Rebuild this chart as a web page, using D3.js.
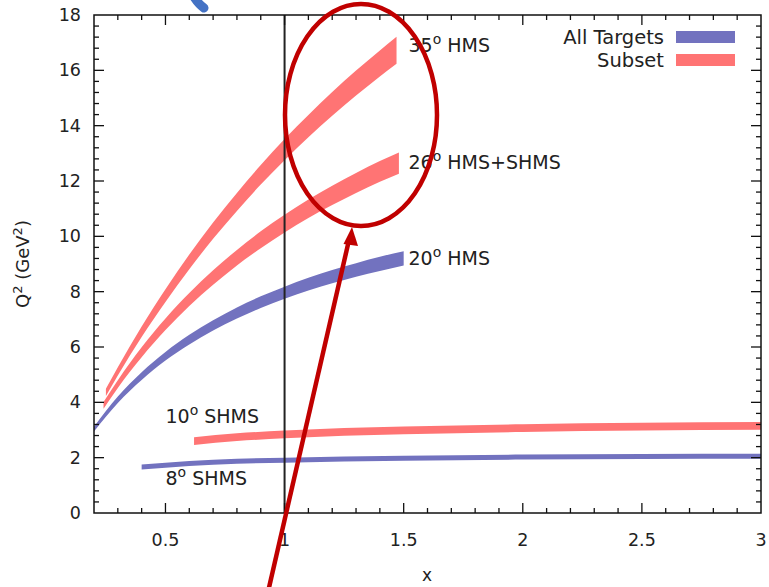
<!DOCTYPE html>
<html><head><meta charset="utf-8">
<script src="https://cdn.jsdelivr.net/npm/d3@7"></script>
<style>html,body{margin:0;padding:0;background:#fff;}svg{display:block;font-family:"DejaVu Sans",sans-serif;}</style>
</head><body>
<svg id="c" width="769" height="587"></svg>
<script>
// ---- data ----
const xTicks = [0.5, 1, 1.5, 2, 2.5, 3];
const xTickLabels = ["0.5", "1", "1.5", "2", "2.5", "3"];
const yTicks = [0, 2, 4, 6, 8, 10, 12, 14, 16, 18];
const yTickLabels = ["0", "2", "4", "6", "8", "10", "12", "14", "16", "18"];

const hms35X     = [0.25, 0.30, 0.40, 0.50, 0.60, 0.70, 0.80, 0.90, 1.00, 1.10, 1.20, 1.30, 1.40, 1.47];
const hms35Upper = [4.49, 5.27, 6.74, 8.09, 9.34, 10.50, 11.57, 12.58, 13.52, 14.39, 15.22, 15.99, 16.72, 17.21];
const hms35Lower = [4.23, 4.97, 6.36, 7.63, 8.81, 9.91, 10.92, 11.87, 12.75, 13.58, 14.36, 15.09, 15.78, 16.24];

const hms26X     = [0.24, 0.30, 0.40, 0.50, 0.60, 0.70, 0.80, 0.90, 1.00, 1.10, 1.20, 1.30, 1.40, 1.48];
const hms26Upper = [4.01, 4.80, 5.99, 7.03, 7.95, 8.77, 9.51, 10.18, 10.78, 11.33, 11.83, 12.29, 12.72, 13.03];
const hms26Lower = [3.77, 4.52, 5.63, 6.61, 7.48, 8.25, 8.95, 9.57, 10.14, 10.66, 11.13, 11.57, 11.97, 12.26];

const hms20X     = [0.20, 0.30, 0.40, 0.50, 0.60, 0.70, 0.80, 0.90, 1.00, 1.10, 1.20, 1.30, 1.40, 1.50];
const hms20Upper = [3.12, 4.21, 5.09, 5.82, 6.44, 6.97, 7.43, 7.83, 8.18, 8.50, 8.78, 9.03, 9.26, 9.46];
const hms20Lower = [2.95, 3.98, 4.81, 5.51, 6.09, 6.60, 7.03, 7.41, 7.74, 8.04, 8.30, 8.54, 8.75, 8.95];

const shms10X     = [0.62, 0.80, 1.00, 1.25, 1.50, 2.00, 2.50, 3.00];
const shms10Upper = [2.74, 2.88, 2.98, 3.07, 3.13, 3.21, 3.26, 3.29];
const shms10Lower = [2.46, 2.60, 2.70, 2.79, 2.85, 2.93, 2.98, 3.01];

const shms8X     = [0.40, 0.60, 0.80, 1.00, 1.50, 2.00, 2.50, 3.00];
const shms8Upper = [1.75, 1.88, 1.96, 2.00, 2.07, 2.11, 2.13, 2.14];
const shms8Lower = [1.57, 1.70, 1.78, 1.82, 1.89, 1.93, 1.95, 1.96];

const seriesNames = ["All Targets", "Subset"];
const bandLabels = [
  {num: "35", rest: " HMS", x: 1.52, y: 16.9},
  {num: "26", rest: " HMS+SHMS", x: 1.52, y: 12.7},
  {num: "20", rest: " HMS", x: 1.52, y: 9.2},
  {num: "10", rest: " SHMS", x: 0.50, y: 3.5},
  {num: "8",  rest: " SHMS", x: 0.50, y: 1.25}
];

// ---- layout ----
const L = 94, R = 761, T = 15, B = 513;
const RED = "#ff7474", BLUE = "#7272bf";

const svg = d3.select("#c");
const xs = d3.scaleLinear().domain([0.2, 3]).range([L, R]);
const ys = d3.scaleLinear().domain([0, 18]).range([B, T]);

// decorative slide residue at top
svg.append("path").attr("d", "M191,-8 Q197,3 204,8").attr("fill", "none")
  .attr("stroke", "#4472c4").attr("stroke-width", 9).attr("stroke-linecap", "round");

function band(xArr, up, lo, color) {
  const pts = xArr.map((x, i) => ({x, u: up[i], l: lo[i]}));
  const area = d3.area().x(d => xs(d.x)).y0(d => ys(d.l)).y1(d => ys(d.u)).curve(d3.curveMonotoneX);
  svg.append("path").datum(pts).attr("d", area).attr("fill", color);
}
band(hms20X, hms20Upper, hms20Lower, BLUE);
band(shms8X, shms8Upper, shms8Lower, BLUE);
band(hms35X, hms35Upper, hms35Lower, RED);
band(hms26X, hms26Upper, hms26Lower, RED);
band(shms10X, shms10Upper, shms10Lower, RED);

// vertical line at x=1
svg.append("line").attr("x1", xs(1)).attr("x2", xs(1)).attr("y1", ys(18)).attr("y2", ys(0))
  .attr("stroke", "#222").attr("stroke-width", 2);

// frame
svg.append("rect").attr("x", L).attr("y", T).attr("width", R - L).attr("height", B - T)
  .attr("fill", "none").attr("stroke", "#111").attr("stroke-width", 1.5);

// ticks (inward on all four sides)
const g = svg.append("g").attr("stroke", "#111").attr("stroke-width", 1.3);
const xMinor = d3.range(3, 30).map(v => v / 10);
xMinor.forEach(v => {
  const major = Math.abs(v * 2 - Math.round(v * 2)) < 1e-6;
  const len = major ? 10 : 5;
  g.append("line").attr("x1", xs(v)).attr("x2", xs(v)).attr("y1", B).attr("y2", B - len);
  g.append("line").attr("x1", xs(v)).attr("x2", xs(v)).attr("y1", T).attr("y2", T + len);
});
const yMinor = d3.range(1, 45).map(v => v * 0.4);
yMinor.forEach(v => {
  const major = Math.abs(v / 2 - Math.round(v / 2)) < 1e-6;
  const len = major ? 10 : 5;
  g.append("line").attr("x1", L).attr("x2", L + len).attr("y1", ys(v)).attr("y2", ys(v));
  g.append("line").attr("x1", R).attr("x2", R - len).attr("y1", ys(v)).attr("y2", ys(v));
});

// tick labels
const tl = svg.append("g").attr("fill", "#222").attr("font-size", 17.5);
xTicks.forEach((v, i) => tl.append("text").attr("x", xs(v)).attr("y", 546)
  .attr("text-anchor", "middle").text(xTickLabels[i]));
yTicks.forEach((v, i) => tl.append("text").attr("x", 81).attr("y", ys(v) + 6)
  .attr("text-anchor", "end").text(yTickLabels[i]));

// axis titles
svg.append("text").attr("x", 427).attr("y", 581).attr("text-anchor", "middle")
  .attr("font-size", 17).attr("fill", "#222").text("x");
const yl = svg.append("text").attr("transform", "translate(29,264) rotate(-90)")
  .attr("text-anchor", "middle").attr("font-size", 18).attr("fill", "#222");
yl.append("tspan").text("Q");
yl.append("tspan").attr("baseline-shift", "super").attr("font-size", 13).text("2");
yl.append("tspan").text(" (GeV");
yl.append("tspan").attr("baseline-shift", "super").attr("font-size", 13).text("2");
yl.append("tspan").text(")");

// band labels
bandLabels.forEach(b => {
  const t = svg.append("text").attr("x", xs(b.x)).attr("y", ys(b.y) + 7)
    .attr("font-size", 19).attr("fill", "#222");
  t.append("tspan").text(b.num);
  t.append("tspan").attr("baseline-shift", "super").attr("font-size", 14).text("o");
  t.append("tspan").text(b.rest);
});

// legend
const legColors = [BLUE, RED];
seriesNames.forEach((n, i) => {
  const cy = 37 + i * 23;
  svg.append("text").attr("x", 664).attr("y", cy + 7).attr("text-anchor", "end")
    .attr("font-size", 19.5).attr("fill", "#222").text(n);
  svg.append("rect").attr("x", 676).attr("y", cy - 6).attr("width", 59).attr("height", 12)
    .attr("fill", legColors[i]);
});

// annotation: ellipse and arrow
svg.append("ellipse").attr("cx", 361).attr("cy", 115).attr("rx", 76).attr("ry", 111)
  .attr("fill", "none").attr("stroke", "#c00000").attr("stroke-width", 4.5);
svg.append("line").attr("x1", 268).attr("y1", 592).attr("x2", 349).attr("y2", 240)
  .attr("stroke", "#c00000").attr("stroke-width", 4.5);
svg.append("path").attr("d", "M352,227 L343.5,244 L358,246 Z").attr("fill", "#c00000");
</script>
</body></html>
